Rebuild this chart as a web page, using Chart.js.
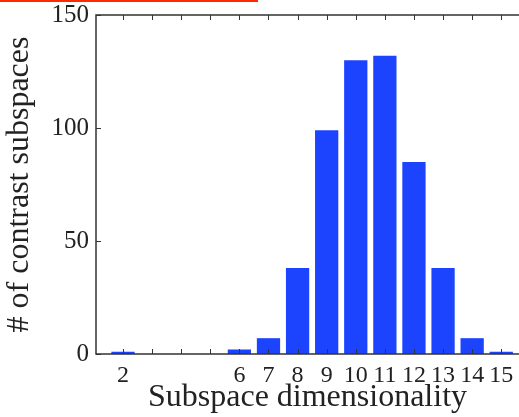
<!DOCTYPE html>
<html>
<head>
<meta charset="utf-8">
<script src="https://cdn.jsdelivr.net/npm/chart.js@4/dist/chart.umd.min.js"></script>
<style>
  html, body { margin: 0; padding: 0; background: #fff; }
  #wrap { position: relative; width: 519px; height: 417px; }
  #redline { position: absolute; left: 0; top: 0; width: 258px; height: 2px; background: #ff2a00; }
</style>
</head>
<body>
<div id="wrap">
  <canvas id="c" width="519" height="417"></canvas>
  <div id="redline"></div>
</div>
<script>
// Data
const dimensions = [2, 3, 4, 5, 6, 7, 8, 9, 10, 11, 12, 13, 14, 15];
const counts     = [1, 0, 0, 0, 2, 7, 38, 99, 130, 132, 85, 38, 7, 1];
const xTickLabels = [2, 6, 7, 8, 9, 10, 11, 12, 13, 14, 15];
const xTickPositions = [2, 3, 4, 5, 6, 7, 8, 9, 10, 11, 12, 13, 14, 15];
const yTicks = [0, 50, 100, 150];

const AXIS_COLOR = '#333333';
const FONT = '"Liberation Serif", "DejaVu Serif", serif';

const frame = {
  id: 'frame',
  afterDatasetsDraw(chart) {
    const ctx = chart.ctx;
    const a = chart.chartArea;
    const xs = chart.scales.x, ys = chart.scales.y;
    ctx.save();
    ctx.strokeStyle = AXIS_COLOR;
    ctx.lineWidth = 1.5;
    ctx.beginPath();
    ctx.moveTo(a.right + 2, a.top);
    ctx.lineTo(a.left, a.top);
    ctx.lineTo(a.left, a.bottom);
    ctx.lineTo(a.right + 2, a.bottom);
    ctx.stroke();
    ctx.lineWidth = 1;
    ctx.beginPath();
    const L = 5;
    xTickPositions.forEach(v => {
      const px = Math.round(xs.getPixelForValue(v)) + 0.5;
      ctx.moveTo(px, a.top); ctx.lineTo(px, a.top + L);
      ctx.moveTo(px, a.bottom); ctx.lineTo(px, a.bottom - L);
    });
    yTicks.forEach(v => {
      const py = Math.round(ys.getPixelForValue(v)) + 0.5;
      ctx.moveTo(a.left, py); ctx.lineTo(a.left + L, py);
    });
    ctx.stroke();
    ctx.restore();
  }
};

new Chart(document.getElementById('c'), {
  type: 'bar',
  data: {
    datasets: [{
      data: dimensions.map((d, i) => ({ x: d, y: counts[i] })),
      backgroundColor: '#1c44ff',
      borderWidth: 0,
      barPercentage: 0.8,
      categoryPercentage: 1.0
    }]
  },
  options: {
    responsive: false,
    animation: false,
    devicePixelRatio: 1,
    layout: { padding: { top: 15, right: 0, left: 0, bottom: 0 } },
    plugins: { legend: { display: false }, tooltip: { enabled: false } },
    scales: {
      x: {
        type: 'linear',
        offset: false,
        min: 1.072,
        max: 15.61,
        grid: { display: false, drawTicks: false, tickLength: 0, offset: false },
        border: { display: false },
        afterBuildTicks: s => { s.ticks = xTickLabels.map(v => ({ value: v })); },
        afterFit: s => { s.height = 63; s.paddingLeft = 0; s.paddingRight = 0; },
        ticks: {
          autoSkip: false,
          maxRotation: 0,
          padding: 7,
          color: '#222',
          font: { family: FONT, size: 24 },
          callback: v => String(v)
        },
        title: {
          display: true,
          text: 'Subspace dimensionality',
          color: '#222',
          font: { family: FONT, size: 32 },
          padding: { top: -3, bottom: 0 }
        }
      },
      y: {
        min: 0,
        max: 150,
        grid: { display: false, drawTicks: false, tickLength: 0 },
        border: { display: false },
        afterBuildTicks: s => { s.ticks = yTicks.map(v => ({ value: v })); },
        afterFit: s => { s.width = 96; s.paddingTop = 0; s.paddingBottom = 0; },
        ticks: {
          padding: 7,
          color: '#222',
          font: { family: FONT, size: 25 }
        },
        title: {
          display: true,
          text: '# of contrast subspaces',
          color: '#222',
          font: { family: FONT, size: 32 },
          padding: { top: 0, bottom: 0 }
        }
      }
    }
  },
  plugins: [frame]
});
</script>
</body>
</html>
